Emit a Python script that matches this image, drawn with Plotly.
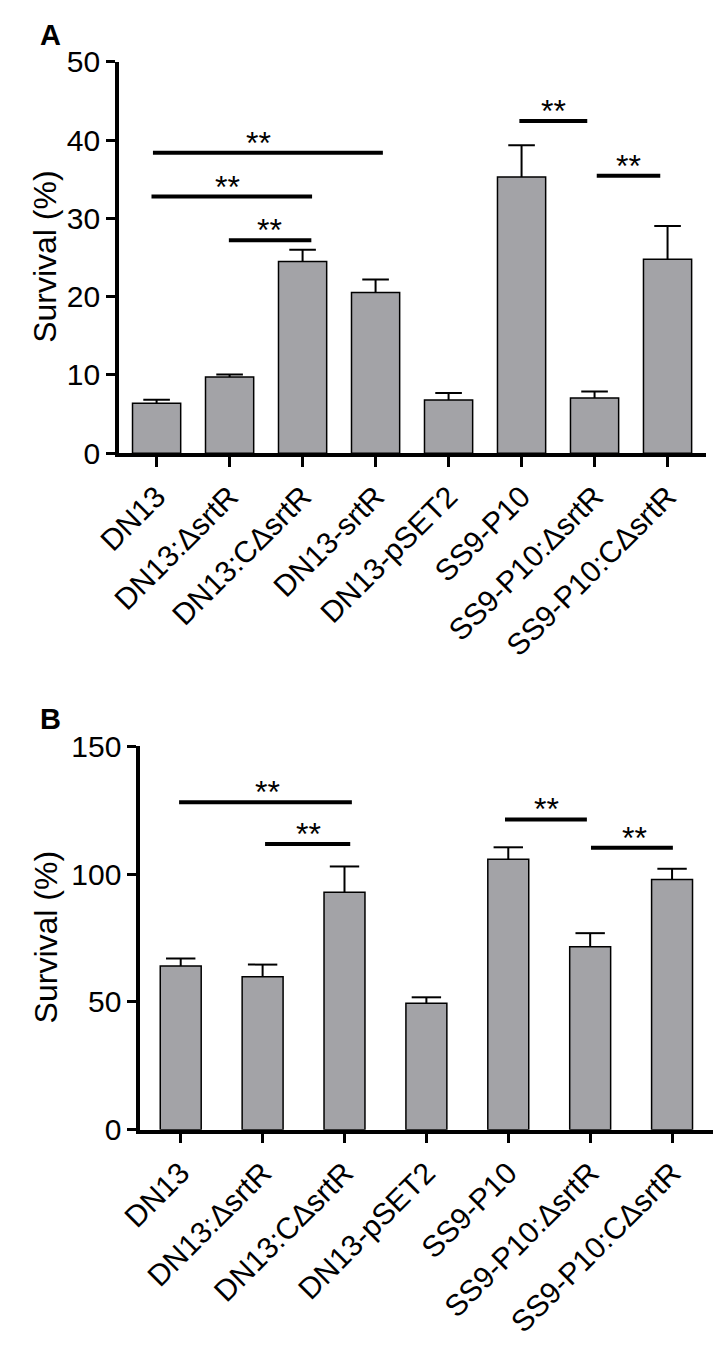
import plotly.graph_objects as go

# ---------------- data ----------------
cats_a = ["DN13", "DN13:ΔsrtR", "DN13:CΔsrtR", "DN13-srtR", "DN13-pSET2",
          "SS9-P10", "SS9-P10:ΔsrtR", "SS9-P10:CΔsrtR"]
vals_a = [6.4, 9.75, 24.5, 20.55, 6.8, 35.3, 7.05, 24.8]
err_a = [0.45, 0.3, 1.5, 1.65, 0.9, 4.05, 0.85, 4.25]

cats_b = ["DN13", "DN13:ΔsrtR", "DN13:CΔsrtR", "DN13-pSET2",
          "SS9-P10", "SS9-P10:ΔsrtR", "SS9-P10:CΔsrtR"]
vals_b = [64.1, 59.8, 92.9, 49.5, 105.8, 71.6, 97.9]
err_b = [2.9, 4.8, 10.1, 2.3, 4.7, 5.3, 4.2]

yticks_a = [0, 10, 20, 30, 40, 50]
yticks_b = [0, 50, 100, 150]

# significance brackets (category index positions, y value)
sig_a_x0 = [-0.05, -0.07, 0.99, 4.97, 6.03]
sig_a_x1 = [3.1, 2.13, 2.12, 5.9, 6.9]
sig_a_y = [38.4, 32.8, 27.2, 42.45, 35.45]
sig_a_star_x = [1.40, 0.97, 1.55, 5.44, 6.47]

sig_b_x0 = [-0.02, 1.03, 3.96, 5.01]
sig_b_x1 = [2.09, 2.07, 4.96, 6.01]
sig_b_y = [128.1, 111.8, 121.4, 110.3]
sig_b_star_x = [1.06, 1.56, 4.47, 5.54]

sig_label = "**"

# ---------------- style ----------------
FONT = "Arial, Liberation Sans, Helvetica, sans-serif"
BAR_FILL = "#a3a3a7"
OFF = 8                 # default page body margin
W, H = 705, 1330


def px_x(p):
    return min(1.0, max(0.0, (p - OFF) / W))


def px_y(p):
    return min(1.0, max(0.0, 1 - (p - OFF) / H))


fig = go.Figure()


def add_panel(cats, vals, errs, width, cap, xa, ya):
    xs = list(range(len(cats)))
    fig.add_trace(go.Bar(
        x=xs, y=vals, width=width,
        marker=dict(color=BAR_FILL, line=dict(color="black", width=1.5)),
        error_y=dict(type="data", symmetric=False, array=errs,
                     arrayminus=[0] * len(errs), color="black",
                     thickness=2, width=0),
        xaxis=xa, yaxis=ya, showlegend=False, hoverinfo="skip"))
    # caps on top of the error bars
    fig.add_trace(go.Scatter(
        x=xs, y=[v + e for v, e in zip(vals, errs)], mode="markers",
        marker=dict(symbol="line-ew-open", size=cap, color="black",
                    line=dict(color="black", width=2)),
        xaxis=xa, yaxis=ya, showlegend=False, hoverinfo="skip"))


add_panel(cats_a, vals_a, err_a, 0.66, 19, "x", "y")
add_panel(cats_b, vals_b, err_b, 0.5, 21, "x2", "y2")

axis_common = dict(showline=True, linecolor="black", showgrid=False,
                   zeroline=False, ticks="outside", tickcolor="black",
                   linewidth=3.5,
                   tickfont=dict(family=FONT, size=30, color="black"))

fig.update_layout(
    width=W, height=H, autosize=False,
    margin=dict(l=0, r=0, t=0, b=0),
    plot_bgcolor="white", paper_bgcolor="white",
    xaxis=dict(domain=[px_x(98), px_x(706)], anchor="y",
               range=[-0.516, 7.53], tickvals=list(range(len(cats_a))),
               ticktext=cats_a, tickangle=-45, ticklen=10, tickwidth=3,
               **axis_common),
    yaxis=dict(domain=[px_y(448.5), px_y(46)], anchor="x",
               range=[0, 50], tickvals=yticks_a, ticklen=9, tickwidth=3,
               **axis_common),
    xaxis2=dict(domain=[px_x(120), px_x(713)], anchor="y2",
                range=[-0.495, 6.50], tickvals=list(range(len(cats_b))),
                ticktext=cats_b, tickangle=-45, ticklen=10, tickwidth=3,
                **axis_common),
    yaxis2=dict(domain=[px_y(1144.3), px_y(750)], anchor="x2",
                range=[0, 150], tickvals=yticks_b, ticklen=9, tickwidth=3,
                **axis_common),
)

shapes = []
annotations = []
for x0, x1, y, sx in zip(sig_a_x0, sig_a_x1, sig_a_y, sig_a_star_x):
    shapes.append(dict(type="line", xref="x", yref="y", x0=x0, x1=x1,
                       y0=y, y1=y, line=dict(color="black", width=4)))
    annotations.append(dict(xref="x", yref="y", x=sx, y=y, text=sig_label,
                            showarrow=False, yanchor="bottom", yshift=-10,
                            font=dict(family=FONT, size=32, color="black")))
for x0, x1, y, sx in zip(sig_b_x0, sig_b_x1, sig_b_y, sig_b_star_x):
    shapes.append(dict(type="line", xref="x2", yref="y2", x0=x0, x1=x1,
                       y0=y, y1=y, line=dict(color="black", width=4)))
    annotations.append(dict(xref="x2", yref="y2", x=sx, y=y, text=sig_label,
                            showarrow=False, yanchor="bottom", yshift=-10,
                            font=dict(family=FONT, size=32, color="black")))

# y-axis titles
for yc in (247, 947):
    annotations.append(dict(xref="paper", yref="paper", x=px_x(22),
                            y=px_y(yc), text="Survival (%)", textangle=-90,
                            showarrow=False, xanchor="center",
                            yanchor="middle",
                            font=dict(family=FONT, size=32, color="black")))
# panel letters
for letter, yc in (("A", 18), ("B", 722)):
    annotations.append(dict(xref="paper", yref="paper", x=px_x(27),
                            y=px_y(yc), text="<b>%s</b>" % letter,
                            showarrow=False, xanchor="center",
                            yanchor="middle",
                            font=dict(family=FONT, size=29, color="black")))

fig.update_layout(shapes=shapes, annotations=annotations)

fig.write_html("out.html")
